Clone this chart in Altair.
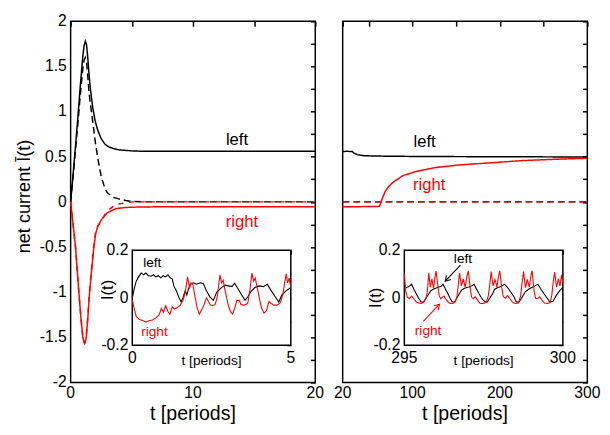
import altair as alt
import pandas as pd

FONT = "Liberation Sans"
BLACK = "#000000"
RED = "#ff0000"

# ---------------- main panel data (left: t = 0..20) ----------------
A_bs_t = [0, 0.2, 0.4, 0.6, 0.8, 1.0, 1.1, 1.2, 1.3, 1.4, 1.5, 1.6, 1.8, 2.0, 2.2, 2.5, 2.8, 3.1, 3.5, 4.0, 5.0, 6, 8, 10, 12, 15, 20]
A_bs_I = [0, 0.30, 0.62, 0.95, 1.3, 1.62, 1.73, 1.78, 1.74, 1.6, 1.42, 1.27, 1.05, 0.9, 0.8, 0.7, 0.64, 0.61, 0.59, 0.575, 0.565, 0.56, 0.56, 0.56, 0.56, 0.56, 0.56]
A_bd_t = [0, 0.2, 0.4, 0.6, 0.8, 1.0, 1.1, 1.2, 1.3, 1.4, 1.5, 1.6, 1.8, 2.0, 2.2, 2.5, 2.8, 3.0, 3.5, 4.0, 4.5, 5.0, 6, 8, 20]
A_bd_I = [0, 0.28, 0.58, 0.88, 1.2, 1.48, 1.57, 1.6, 1.55, 1.4, 1.22, 1.1, 0.9, 0.68, 0.5, 0.28, 0.15, 0.1, 0.05, 0.03, 0.015, 0.005, 0.0, 0.0, 0.0]
A_rs_t = [0, 0.2, 0.4, 0.67, 0.85, 1.0, 1.1, 1.15, 1.2, 1.28, 1.4, 1.55, 1.7, 1.9, 2.05, 2.2, 2.5, 3.0, 3.7, 4.5, 5.5, 7, 10, 20]
A_rs_I = [0, -0.25, -0.5, -1.0, -1.3, -1.5, -1.56, -1.57, -1.55, -1.5, -1.3, -1.0, -0.78, -0.5, -0.35, -0.28, -0.2, -0.12, -0.075, -0.062, -0.057, -0.055, -0.055, -0.055]
A_rd_t = [0, 0.2, 0.4, 0.67, 0.85, 1.0, 1.1, 1.15, 1.2, 1.28, 1.4, 1.55, 1.7, 1.9, 2.05, 2.2, 2.48, 3.0, 3.68, 4.5, 5.1, 7, 20]
A_rd_I = [0, -0.25, -0.5, -1.0, -1.3, -1.5, -1.55, -1.56, -1.54, -1.48, -1.28, -0.98, -0.75, -0.47, -0.33, -0.27, -0.21, -0.1, -0.03, -0.01, 0, 0, 0]

# ---------------- main panel data (right: t = 20..300) ----------------
B_bs_t = [20, 25, 31, 33, 37, 44, 55, 78, 120, 200, 300]
B_bs_I = [0.558, 0.56, 0.558, 0.54, 0.522, 0.512, 0.508, 0.505, 0.502, 0.5, 0.497]
B_rs_t = [20, 40, 62, 64.8, 68.5, 72.3, 77.9, 89, 104, 126, 152, 190, 227, 264, 300]
B_rs_I = [-0.053, -0.053, -0.05, 0.025, 0.113, 0.166, 0.22, 0.291, 0.337, 0.38, 0.408, 0.433, 0.458, 0.472, 0.483]
B_bd_t = [20, 300]
B_bd_I = [0, 0]
B_rd_t = [20, 300]
B_rd_I = [0, 0]

# ---------------- inset data (left: t = 0..5) ----------------
C_b_t = [0.0, 0.07, 0.125, 0.2, 0.28, 0.36, 0.43, 0.51, 0.59, 0.67, 0.74, 0.82, 0.9, 0.98, 1.05, 1.125, 1.19, 1.26, 1.31, 1.39, 1.465, 1.54, 1.6, 1.67, 1.72, 1.77, 1.83, 1.93, 2.03, 2.14, 2.24, 2.34, 2.44, 2.557, 2.66, 2.815, 2.918, 3.042, 3.145, 3.227, 3.31, 3.433, 3.557, 3.64, 3.742, 3.866, 4.0, 4.134, 4.258, 4.38, 4.515, 4.619, 4.72, 4.856, 5.0]
C_b_I = [0.0, 0.043, 0.07, 0.088, 0.104, 0.097, 0.104, 0.093, 0.091, 0.097, 0.088, 0.093, 0.084, 0.093, 0.088, 0.097, 0.084, 0.08, 0.05, 0.03, 0.003, -0.018, 0.0, 0.03, 0.012, 0.036, 0.057, 0.063, 0.057, 0.063, 0.06, 0.03, 0.005, -0.011, 0.023, 0.043, 0.053, 0.05, 0.047, 0.061, 0.043, 0.016, -0.011, 0.003, 0.026, 0.043, 0.05, 0.047, 0.057, 0.03, 0.003, -0.018, 0.012, 0.03, 0.043]
C_r_t = [0.0, 0.073, 0.125, 0.228, 0.331, 0.434, 0.537, 0.64, 0.743, 0.846, 0.918, 0.98, 1.052, 1.125, 1.186, 1.259, 1.33, 1.413, 1.516, 1.599, 1.671, 1.743, 1.805, 1.856, 1.908, 1.98, 2.052, 2.114, 2.186, 2.259, 2.34, 2.403, 2.465, 2.53, 2.609, 2.671, 2.723, 2.765, 2.815, 2.867, 2.918, 2.98, 3.042, 3.104, 3.165, 3.227, 3.3, 3.372, 3.433, 3.536, 3.64, 3.712, 3.774, 3.825, 3.877, 3.95, 4.02, 4.083, 4.155, 4.227, 4.31, 4.381, 4.464, 4.567, 4.67, 4.753, 4.804, 4.856, 4.897, 4.948, 5.0]
C_r_I = [-0.01, -0.052, -0.079, -0.092, -0.096, -0.102, -0.096, -0.094, -0.085, -0.072, -0.045, -0.061, -0.034, -0.058, -0.069, -0.038, -0.048, -0.042, -0.031, -0.011, 0.023, 0.088, 0.043, 0.063, 0.057, 0.003, -0.045, -0.069, -0.052, -0.031, 0.0, -0.016, -0.031, -0.033, -0.029, -0.003, 0.05, 0.097, 0.063, 0.074, 0.036, -0.003, -0.038, -0.061, -0.069, -0.045, -0.011, -0.011, -0.029, -0.031, -0.024, 0.036, 0.104, 0.07, 0.083, 0.036, -0.011, -0.045, -0.065, -0.056, -0.016, -0.024, -0.031, -0.031, -0.021, 0.016, 0.063, 0.101, 0.063, 0.083, 0.043]

# ---------------- inset data (right: t = 295..300) ----------------
D_b_t = [295.0, 295.09, 295.17, 295.23, 295.3, 295.38, 295.46, 295.53, 295.61, 295.69, 295.77, 295.84, 295.91, 295.99, 296.08, 296.15, 296.22, 296.3, 296.38, 296.45, 296.51, 296.59, 296.66, 296.73, 296.81, 296.9, 296.97, 297.04, 297.12, 297.2, 297.28, 297.36, 297.43, 297.5, 297.57, 297.62, 297.7, 297.78, 297.85, 297.95, 298.05, 298.16, 298.26, 298.36, 298.46, 298.53, 298.62, 298.72, 298.82, 298.92, 299.02, 299.12, 299.21, 299.31, 299.41, 299.52, 299.59, 299.69, 299.79, 299.9, 300.0]
D_b_I = [0.043, 0.043, 0.05, 0.057, 0.036, 0.016, -0.004, -0.018, -0.018, 0.0, 0.016, 0.03, 0.036, 0.04, 0.045, 0.047, 0.057, 0.036, 0.016, -0.004, -0.018, -0.018, 0.0, 0.016, 0.033, 0.04, 0.043, 0.045, 0.05, 0.057, 0.036, 0.016, 0.0, -0.012, -0.018, -0.018, 0.0, 0.016, 0.036, 0.043, 0.047, 0.057, 0.043, 0.023, 0.003, -0.018, -0.018, 0.003, 0.026, 0.036, 0.043, 0.05, 0.057, 0.036, 0.016, -0.004, -0.018, -0.015, 0.009, 0.03, 0.043]
D_r_t = [295.0, 295.04, 295.09, 295.16, 295.23, 295.3, 295.38, 295.46, 295.53, 295.61, 295.69, 295.73, 295.77, 295.82, 295.87, 295.92, 295.97, 296.0, 296.05,
         296.1, 296.15, 296.2, 296.25, 296.3, 296.38, 296.45, 296.52, 296.6, 296.66, 296.69, 296.74, 296.8, 296.86, 296.92, 296.98, 297.02, 297.07,
         297.12, 297.18, 297.24, 297.3, 297.39, 297.49, 297.59, 297.65, 297.69, 297.74, 297.8, 297.86, 297.92, 297.97, 298.01, 298.07,
         298.12, 298.18, 298.26, 298.33, 298.42, 298.5, 298.6, 298.67, 298.71, 298.76, 298.82, 298.88, 298.94, 299.0, 299.03, 299.09,
         299.14, 299.2, 299.27, 299.34, 299.42, 299.52, 299.6, 299.65, 299.69, 299.74, 299.8, 299.86, 299.91, 299.96, 300.0]
D_r_I = [0.10, 0.03, 0.003, -0.004, 0.007, -0.004, -0.018, -0.022, -0.024, -0.018, 0.0, 0.03, 0.105, 0.045, 0.08, 0.04, 0.09, 0.112, 0.06,
         0.009, -0.004, 0.003, 0.007, -0.004, -0.018, -0.024, -0.024, -0.018, 0.003, 0.04, 0.104, 0.05, 0.08, 0.045, 0.095, 0.112, 0.05,
         0.003, -0.004, 0.005, -0.008, -0.024, -0.024, -0.018, 0.009, 0.05, 0.11, 0.05, 0.077, 0.045, 0.09, 0.114, 0.045,
         0.005, -0.002, 0.009, -0.004, -0.02, -0.024, -0.022, 0.009, 0.06, 0.11, 0.043, 0.077, 0.045, 0.1, 0.114, 0.03,
         -0.002, -0.004, 0.004, -0.01, -0.022, -0.024, -0.02, 0.01, 0.06, 0.108, 0.045, 0.08, 0.05, 0.097, 0.06]

# ---------------- curve labels ----------------
A_lab = ["left", "right"]; A_lab_t = [13.6, 14.0]; A_lab_I = [0.68, -0.22]; A_lab_c = [BLACK, RED]
B_lab = ["left", "right"]; B_lab_t = [113.7, 119.0]; B_lab_I = [0.66, 0.19]; B_lab_c = [BLACK, RED]
C_lab = ["left", "right"]; C_lab_t = [0.63, 0.70]; C_lab_I = [0.145, -0.143]; C_lab_c = [BLACK, RED]
D_lab = ["left", "right"]; D_lab_t = [296.85, 295.75]; D_lab_I = [0.165, -0.14]; D_lab_c = [BLACK, RED]
# arrows in right inset (label -> curve)
D_arr_t0 = [296.77, 295.6]; D_arr_I0 = [0.138, -0.099]
D_arr_t1 = [296.29, 296.11]; D_arr_I1 = [0.07, -0.027]
D_arr_ang = [133, 313]; D_arr_c = [BLACK, RED]

# ---------------- ticks and tick labels ----------------
Y_TICKS = [-2, -1.75, -1.5, -1.25, -1, -0.75, -0.5, -0.25, 0, 0.25, 0.5, 0.75, 1, 1.25, 1.5, 1.75, 2]
Y_LAB_V = [-2, -1.5, -1, -0.5, 0, 0.5, 1, 1.5, 2]
Y_LAB = ["-2", "-1.5", "-1", "-0.5", "0", "0.5", "1", "1.5", "2"]
A_XTICKS = [0, 5, 10, 15, 20]
A_XLAB_V = [0, 10, 20]; A_XLAB = ["0", "10", "20"]
B_XTICKS = [20, 50, 100, 150, 200, 250, 300]
B_XLAB_V = [20, 100, 200, 300]; B_XLAB = ["20", "100", "200", "300"]
C_XTICKS = [0, 2.5, 5]
C_XLAB_V = [0, 5]; C_XLAB = ["0", "5"]
D_XTICKS = [295, 297.5, 300]
D_XLAB_V = [295, 300]; D_XLAB = ["295", "300"]
I_YTICKS = [-0.2, -0.1, 0, 0.1, 0.2]
I_YLAB_V = [-0.2, 0, 0.2]; I_YLAB = ["-0.2", "0", "0.2"]

SERIES = ["1 black dashed", "2 black solid", "3 red dashed", "4 red solid"]
S_COLORS = [BLACK, BLACK, RED, RED]
S_DASH = [[7, 4], [1, 0], [5, 6], [1, 0]]

# ---------------- layout ----------------
W, H = 250, 369
TL = 5        # main tick length
TI = 4        # inset tick length
XI = [63, 225]
YI_TOP = round(0.634 * H)
YI_BOT = round(0.898 * H)


def series_df(pairs):
    frames = []
    for name, t, I in pairs:
        frames.append(pd.DataFrame({"t": t, "I": I, "series": name}))
    return pd.concat(frames, ignore_index=True)


def txt(t, I, lab, xs, ys, **mk):
    d = pd.DataFrame({"t": t, "I": I, "lab": lab})
    return alt.Chart(d).mark_text(font=FONT, color="black", **mk).encode(
        x=alt.X("t:Q", scale=xs, axis=None), y=alt.Y("I:Q", scale=ys, axis=None), text="lab:N")


def ticks_axis(orient, values, offset, size, width):
    return alt.Axis(orient=orient, values=values, labels=False, title=None, offset=offset,
                    tickSize=size, tickWidth=width, domain=False, grid=False)


def panel(main_pairs, lab, lab_t, lab_I, lab_c, xdom, xticks, xlab_v, xlab, ylabels,
          ins_pairs, ilab, ilab_t, ilab_I, ilab_c, ixdom, ixticks, ixlab_v, ixlab,
          ititle_t, ititle_I, arrows=None):
    xs = alt.Scale(domain=xdom, nice=False, zero=False)
    ys = alt.Scale(domain=[-2, 2], nice=False, zero=False)
    mdf = series_df(main_pairs)
    lines = alt.Chart(mdf).mark_line(strokeWidth=1.5).encode(
        x=alt.X("t:Q", scale=xs, axis=ticks_axis("bottom", xticks, -TL, TL, 1.5)),
        y=alt.Y("I:Q", scale=ys, axis=ticks_axis("left", Y_TICKS, -TL, TL, 1.5)),
        color=alt.Color("series:N", scale=alt.Scale(domain=SERIES, range=S_COLORS), legend=None),
        strokeDash=alt.StrokeDash("series:N", scale=alt.Scale(domain=SERIES, range=S_DASH), legend=None),
    )
    tdf = pd.DataFrame({"t": lab_t, "I": lab_I, "label": lab, "clr": lab_c})
    texts = alt.Chart(tdf).mark_text(font=FONT, fontSize=17, align="center", baseline="middle").encode(
        x=alt.X("t:Q", scale=xs, axis=None), y=alt.Y("I:Q", scale=ys, axis=None),
        text="label:N", color=alt.Color("clr:N", scale=None))
    xlabels = txt(xlab_v, [-2] * len(xlab_v), xlab, xs, ys, fontSize=16, align="center", baseline="top", dy=3)
    xtitle = txt([(xdom[0] + xdom[1]) / 2], [-2], ["t [periods]"], xs, ys, fontSize=20, align="center",
                 baseline="middle", dy=32)
    mlayers = [lines, texts, xlabels, xtitle]
    if ylabels:
        ylab = txt([xdom[0]] * len(Y_LAB_V), Y_LAB_V, Y_LAB, xs, ys, fontSize=16, align="right",
                   baseline="middle", dx=-4)
        # y title sits 47.5 px left of the frame: 3.8 periods at 12.5 px/period
        ytitle = txt([xdom[0] - 3.8], [0.06], ["net current  Ī(t)"], xs, ys, fontSize=18.5,
                     align="center", baseline="middle", angle=270)
        mlayers += [ylab, ytitle]
    main = alt.layer(*mlayers)

    odf = pd.DataFrame({"t": xdom, "I": [-2, 2]})
    opp = alt.Chart(odf).mark_point(opacity=0, size=1).encode(
        x=alt.X("t:Q", scale=xs, axis=ticks_axis("top", xticks, -TL, TL, 1.5)),
        y=alt.Y("I:Q", scale=ys, axis=ticks_axis("right", Y_TICKS, -TL, TL, 1.5)))

    # ---- inset ----
    ixs = alt.Scale(domain=ixdom, range=XI, nice=False, zero=False)
    iys = alt.Scale(domain=[-0.2, 0.2], range=[YI_BOT, YI_TOP], nice=False, zero=False)
    fdf = pd.DataFrame({"t": [ixdom[0]], "t2": [ixdom[1]], "I": [-0.2], "I2": [0.2]})
    frame = alt.Chart(fdf).mark_rect(fill="white", stroke="black", strokeWidth=1.5).encode(
        x=alt.X("t:Q", scale=ixs, axis=ticks_axis("bottom", ixticks, -(H - YI_BOT) - TI, TI, 1.2)),
        x2="t2",
        y=alt.Y("I:Q", scale=iys, axis=ticks_axis("left", I_YTICKS, -(XI[0] + TI), TI, 1.2)),
        y2="I2")
    idf = series_df(ins_pairs)
    ilines = alt.Chart(idf).mark_line(strokeWidth=1.1).encode(
        x=alt.X("t:Q", scale=ixs, axis=None), y=alt.Y("I:Q", scale=iys, axis=None),
        color=alt.Color("series:N", scale=alt.Scale(domain=SERIES, range=S_COLORS), legend=None))
    itdf = pd.DataFrame({"t": ilab_t, "I": ilab_I, "label": ilab, "clr": ilab_c})
    itexts = alt.Chart(itdf).mark_text(font=FONT, fontSize=14, align="center", baseline="middle").encode(
        x=alt.X("t:Q", scale=ixs, axis=None), y=alt.Y("I:Q", scale=iys, axis=None),
        text="label:N", color=alt.Color("clr:N", scale=None))
    ixl = txt(ixlab_v, [-0.2] * len(ixlab_v), ixlab, ixs, iys, fontSize=16, align="center",
              baseline="top", dy=5)
    iyl = txt([ixdom[0]] * len(I_YLAB_V), I_YLAB_V, I_YLAB, ixs, iys, fontSize=16, align="right",
              baseline="middle", dx=-4)
    ixt = txt([(ixdom[0] + ixdom[1]) / 2], [-0.2], ["t [periods]"], ixs, iys, fontSize=14,
              align="center", baseline="middle", dy=16)
    iyt = txt([ititle_t], [ititle_I], ["I(t)"], ixs, iys, fontSize=17, align="center",
              baseline="middle", angle=270)
    ilayers = [frame, ilines, itexts, ixl, iyl, ixt, iyt]
    if arrows is not None:
        t0, I0, t1, I1, ang, clr = arrows
        adf = pd.DataFrame({"t0": t0, "I0": I0, "t1": t1, "I1": I1, "ang": ang, "clr": clr})
        rule = alt.Chart(adf).mark_rule(strokeWidth=1.1).encode(
            x=alt.X("t0:Q", scale=ixs, axis=None), y=alt.Y("I0:Q", scale=iys, axis=None),
            x2="t1", y2="I1", color=alt.Color("clr:N", scale=None))
        head = alt.Chart(adf).mark_point(shape="M-1,-0.6L0,0L-1,0.6", filled=False, size=110,
                                         strokeWidth=1.1, opacity=1).encode(
            x=alt.X("t1:Q", scale=ixs, axis=None), y=alt.Y("I1:Q", scale=iys, axis=None),
            angle=alt.Angle("ang:Q", scale=None), color=alt.Color("clr:N", scale=None))
        ilayers += [rule, head]
    inset = alt.layer(*ilayers)

    iodf = pd.DataFrame({"t": ixdom, "I": [-0.2, 0.2]})
    iopp = alt.Chart(iodf).mark_point(opacity=0, size=1).encode(
        x=alt.X("t:Q", scale=ixs, axis=ticks_axis("top", ixticks, -(YI_TOP + TI), TI, 1.2)),
        y=alt.Y("I:Q", scale=iys, axis=ticks_axis("right", I_YTICKS, -(W - XI[1]) - TI, TI, 1.2)))

    return alt.layer(main, opp, inset, iopp).resolve_scale(x="independent", y="independent").properties(
        width=W, height=H)


left = panel(
    [(SERIES[0], A_bd_t, A_bd_I), (SERIES[1], A_bs_t, A_bs_I), (SERIES[2], A_rd_t, A_rd_I), (SERIES[3], A_rs_t, A_rs_I)],
    A_lab, A_lab_t, A_lab_I, A_lab_c, [0, 20], A_XTICKS, A_XLAB_V, A_XLAB, True,
    [(SERIES[1], C_b_t, C_b_I), (SERIES[3], C_r_t, C_r_I)],
    C_lab, C_lab_t, C_lab_I, C_lab_c, [0, 5], C_XTICKS, C_XLAB_V, C_XLAB, -0.77, 0.033)

right = panel(
    [(SERIES[0], B_bd_t, B_bd_I), (SERIES[1], B_bs_t, B_bs_I), (SERIES[2], B_rd_t, B_rd_I), (SERIES[3], B_rs_t, B_rs_I)],
    B_lab, B_lab_t, B_lab_I, B_lab_c, [20, 300], B_XTICKS, B_XLAB_V, B_XLAB, False,
    [(SERIES[1], D_b_t, D_b_I), (SERIES[3], D_r_t, D_r_I)],
    D_lab, D_lab_t, D_lab_I, D_lab_c, [295, 300], D_XTICKS, D_XLAB_V, D_XLAB, 294.11, 0.0,
    arrows=(D_arr_t0, D_arr_I0, D_arr_t1, D_arr_I1, D_arr_ang, D_arr_c))

chart = alt.hconcat(left, right, spacing=8).properties(
    padding={"left": 6, "top": 0, "right": 0, "bottom": 0}
).configure_view(stroke="black", strokeWidth=1.5).configure_axis(
    tickColor="black", grid=False, domain=False
)

chart.save("out.html", embed_options={"renderer": "svg", "actions": False})
